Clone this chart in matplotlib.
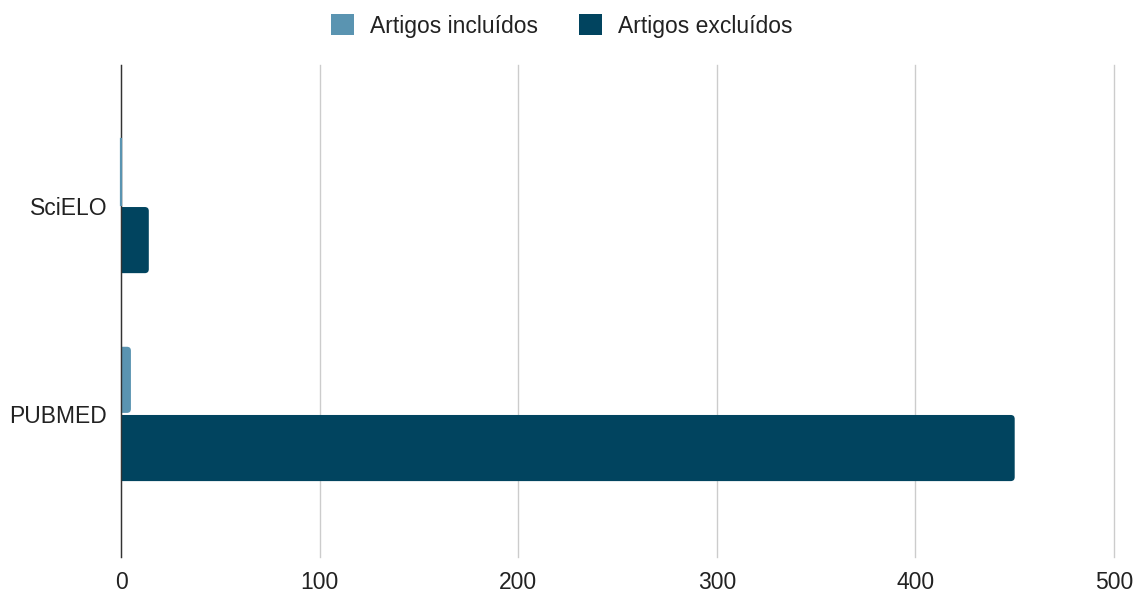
import matplotlib.pyplot as plt
from matplotlib.patches import Patch, FancyBboxPatch
import numpy as np

plt.rcParams.update({'font.family': ['Liberation Sans', 'DejaVu Sans'], 'font.size': 16.5})

categories = ['SciELO', 'PUBMED']
incluidos = [0, 5]
excluidos = [14, 450]
series_names = ['Artigos incluídos', 'Artigos excluídos']
c_inc = '#5a94b1'
c_exc = '#01445f'

fig = plt.figure(figsize=(11.35, 5.93), dpi=100, facecolor='white')
ax = fig.add_axes([121/1135, 36/593, (1114-121)/1135, (557-65)/593])

y = np.arange(len(categories))
h = 0.318
bars_inc = ax.barh(y - h/2 - 0.005, incluidos, height=h, color=c_inc)
bars_exc = ax.barh(y + h/2 + 0.005, excluidos, height=h, color=c_exc)

# swap plain rectangles for rounded ones (left end hidden behind the axis)
for bars, col in [(bars_inc, c_inc), (bars_exc, c_exc)]:
    for r in bars:
        x0, y0, w, hh = r.get_x(), r.get_y(), r.get_width(), r.get_height()
        r.set_visible(False)
        if w <= 0:
            ax.plot([0, 0], [y0, y0 + hh], color=col, lw=1.6, zorder=6, clip_on=False)
            continue
        ax.add_patch(FancyBboxPatch((x0 - 4, y0), w + 4, hh,
                                    boxstyle='round,pad=0,rounding_size=2',
                                    mutation_aspect=0.0096, facecolor=col,
                                    edgecolor='none', zorder=3))

ax.set_xlim(0, 500)
ax.set_ylim(1.688, -0.678)
ax.set_xticks(np.arange(0, 501, 100))
ax.set_yticks(y, categories)
ax.tick_params(length=0, labelcolor='#222222', pad=10)
ax.tick_params(axis='x', pad=10)
ax.grid(axis='x', color='#cccccc', linewidth=1, zorder=0)
for gl in ax.get_xgridlines():
    gl.set_clip_on(False)
for s in ['top', 'right', 'bottom']:
    ax.spines[s].set_visible(False)
ax.spines['left'].set_color('#333333')
ax.spines['left'].set_linewidth(1)
ax.spines['left'].set_zorder(4)

handles = [Patch(facecolor=c_inc), Patch(facecolor=c_exc)]
fig.legend(handles, series_names, loc='center', bbox_to_anchor=(562/1135, 1 - 26/593), ncol=2,
           frameon=False, handlelength=1.0, handleheight=1.0, handletextpad=0.7, columnspacing=1.8,
           labelcolor='#222222')

fig.savefig('out.png', dpi=100, facecolor='white')
